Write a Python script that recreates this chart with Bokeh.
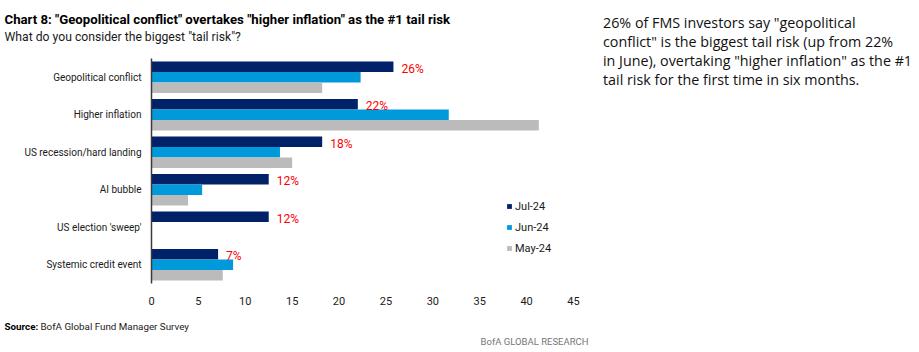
from bokeh.plotting import figure
from bokeh.layouts import column, row
from bokeh.models import (ColumnDataSource, FactorRange, Range1d, SingleIntervalTicker,
                          Legend, LegendItem)
from bokeh.transform import dodge
from bokeh.core.properties import value
from bokeh.embed import file_html
from bokeh.resources import INLINE

categories = ["Geopolitical conflict", "Higher inflation", "US recession/hard landing",
              "AI bubble", "US election 'sweep'", "Systemic credit event"]
jul_24 = [25.8, 22.0, 18.2, 12.5, 12.5, 7.1]
jun_24 = [22.3, 31.7, 13.7, 5.4, 0.0, 8.7]
may_24 = [18.2, 41.3, 15.0, 3.9, 0.0, 7.6]
jul_labels = ["26%", "22%", "18%", "12%", "12%", "7%"]
series_names = ["Jul-24", "Jun-24", "May-24"]
x_ticks_interval = 5

title_text = 'Chart 8: "Geopolitical conflict" overtakes "higher inflation" as the #1 tail risk'
subtitle_text = 'What do you consider the biggest "tail risk"?'
side_lines = ['26% of FMS investors say "geopolitical',
              'conflict" is the biggest tail risk (up from 22%',
              'in June), overtaking "higher inflation" as the #1',
              'tail risk for the first time in six months.']
source_bold = "Source:"
source_text = "BofA Global Fund Manager Survey"
brand_text = "BofA GLOBAL RESEARCH"

NAVY = "#012169"
BLUE = "#009ADB"
GREY = "#BBBBBB"
FONT = "Roboto"
TXT = "#1a1a1a"


def text_fig(w, h):
    f = figure(width=w, height=h, output_backend="svg", toolbar_location=None,
               x_range=Range1d(0, w), y_range=Range1d(h, 0),
               x_axis_location=None, y_axis_location=None,
               min_border=0, min_border_left=0, min_border_right=0,
               min_border_top=0, min_border_bottom=0, frame_align=False)
    f.outline_line_color = None
    f.xgrid.visible = False
    f.ygrid.visible = False
    return f


def put(f, x, y, t, size, style="normal", color=TXT, font=FONT, align="left", baseline="middle"):
    f.text(x=[x], y=[y], text=[t], text_font=value(font), text_font_size=value(size),
           text_font_style=style, text_color=color, text_align=align, text_baseline=baseline)


# header
head = text_fig(590, 48)
put(head, 4, 19, title_text, "13.2px", style="bold", color="#000000")
put(head, 4, 36.5, subtitle_text, "12.2px")

# main chart
src = ColumnDataSource(dict(cat=categories, jul=jul_24, jun=jun_24, may=may_24, lbl=jul_labels))
p = figure(width=590, height=262, output_backend="svg", toolbar_location=None,
           y_range=FactorRange(factors=list(reversed(categories))),
           x_range=Range1d(0, 45), frame_align=False,
           min_border_left=151, min_border_right=17, min_border_top=10, min_border_bottom=27)
p.outline_line_color = None
p.xgrid.visible = False
p.ygrid.visible = False

h = 0.28
r_jul = p.hbar(y=dodge("cat", h, range=p.y_range), right="jul", left=0, height=h, source=src,
               fill_color=NAVY, line_color=None)
r_jun = p.hbar(y=dodge("cat", 0, range=p.y_range), right="jun", left=0, height=h, source=src,
               fill_color=BLUE, line_color=None)
r_may = p.hbar(y=dodge("cat", -h, range=p.y_range), right="may", left=0, height=h, source=src,
               fill_color=GREY, line_color=None)

p.text(x="jul", y=dodge("cat", h, range=p.y_range), text="lbl", source=src,
       x_offset=8, y_offset=2, text_baseline="middle", text_align="left",
       text_color="#FF0000", text_font=value(FONT), text_font_size=value("12px"))

xa = p.xaxis[0]
xa.ticker = SingleIntervalTicker(interval=x_ticks_interval)
xa.axis_line_color = None
xa.major_tick_line_color = None
xa.minor_tick_line_color = None
xa.major_tick_out = 0
xa.major_tick_in = 0
xa.major_label_standoff = 9
xa.major_label_text_font = FONT
xa.major_label_text_font_size = "11px"
xa.major_label_text_color = TXT

ya = p.yaxis[0]
ya.axis_line_color = "#3a3a3a"
ya.axis_line_width = 1.5
ya.major_tick_line_color = None
ya.minor_tick_line_color = None
ya.major_tick_out = 0
ya.major_tick_in = 0
ya.major_label_standoff = 10
ya.major_label_text_font = FONT
ya.major_label_text_font_size = "10px"
ya.major_label_text_color = TXT

legend = Legend(items=[LegendItem(label=series_names[0], renderers=[r_jul]),
                       LegendItem(label=series_names[1], renderers=[r_jun]),
                       LegendItem(label=series_names[2], renderers=[r_may])],
                location=(355, 26), glyph_width=6, glyph_height=6, label_standoff=3,
                padding=0, margin=0, spacing=3, label_height=18,
                label_text_font=FONT, label_text_font_size="11px",
                label_text_color=TXT,
                border_line_color=None, background_fill_alpha=0)
p.add_layout(legend)

# footer
foot = text_fig(590, 42)
put(foot, 4, 16, source_bold, "9.8px", style="bold", color="#000000")
put(foot, 40, 16, source_text, "9.8px")
put(foot, 588, 31, brand_text, "9.5px", color="#777777", align="right")

# side text
side = text_fig(329, 352)
for i, t in enumerate(side_lines):
    put(side, 12.5, 21.7 + i * 19.2, t, "14.3px", font="Open Sans", color="#111111",
        baseline="alphabetic")

layout = row(column(head, p, foot, spacing=0), side, spacing=0)
open("out.html", "w").write(file_html(layout, INLINE))
